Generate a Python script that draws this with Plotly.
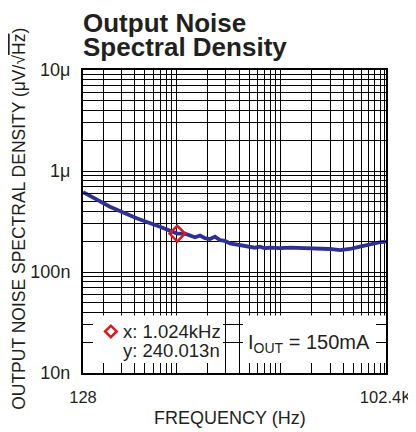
import math
import plotly.graph_objects as go

# ---- data ----
freq_hz = [128, 131, 232, 418, 699, 1024, 1214, 1356, 1514, 1691, 1888, 2107,
           2353, 2628, 2934, 3276, 3657, 4084, 4560, 5092, 5686, 6348, 7088,
           7914, 9868, 12300, 19120, 29730, 37070, 46210, 57610, 71820, 89550,
           102400]
noise_nv = [620, 610, 443, 340, 281, 240, 240, 232, 221, 229, 216, 212,
            224, 207, 203, 192, 188, 182, 182, 178, 174, 178, 172,
            174, 172, 174, 172, 169, 165, 169, 178, 188, 197,
            200]
cursor_x = 1024
cursor_y = 240.013e-9

x_tick_vals = [128, 102400]
x_tick_text = ["128", "102.4K"]
y_tick_vals = [1e-8, 1e-7, 1e-6, 1e-5]
y_tick_text = ["10n", "100n", "1μ", "10μ"]
x_decades = [100, 1000, 10000]
y_decades = [1e-8, 1e-7, 1e-6]
grid_digits = [1, 2, 3, 4, 5, 6, 7, 8, 9]

noise_v = [v * 1e-9 for v in noise_nv]
x_minor = [d * k for d in x_decades for k in grid_digits if 128 < d * k < 102400] + [100000]
x_minor = sorted(set(x_minor))
y_minor = [d * k for d in y_decades for k in grid_digits if d * k > 1e-8]

x_lo, x_hi = math.log10(x_tick_vals[0]), math.log10(x_tick_vals[-1])
y_lo, y_hi = -8, -5


def xf(frac):
    return 10 ** (x_lo + frac * (x_hi - x_lo))


def yf(frac):
    return 10 ** (y_lo + frac * (y_hi - y_lo))


FONT = "Liberation Sans, Arial, sans-serif"
TXT = "#231f20"

fig = go.Figure()
fig.add_trace(go.Scatter(x=freq_hz, y=noise_v, mode="lines",
                         line=dict(color="#2e3192", width=3.8),
                         hoverinfo="skip", showlegend=False))
fig.add_trace(go.Scatter(x=[cursor_x], y=[cursor_y], mode="markers",
                         marker=dict(symbol="diamond-open", size=12,
                                     color="#e3151b", line=dict(width=2.5, color="#e3151b")),
                         showlegend=False))

axis_common = dict(type="log", showline=True, linecolor="black", linewidth=2,
                   mirror="ticks", ticks="inside", ticklen=10, tickwidth=1,
                   tickcolor="black", showgrid=False, zeroline=False)

fig.update_xaxes(**axis_common, range=[x_lo, x_hi],
                 tickmode="array", tickvals=x_tick_vals, ticktext=x_tick_text,
                 tickfont=dict(family=FONT, size=16.5, color=TXT),
                 ticklabelstandoff=8,
                 minor=dict(tickmode="array", tickvals=x_minor, ticks="inside",
                            ticklen=10, tickwidth=1, tickcolor="black",
                            showgrid=True, gridcolor="black", gridwidth=1))
fig.update_yaxes(**axis_common, range=[y_lo, y_hi],
                 tickmode="array", tickvals=y_tick_vals, ticktext=y_tick_text,
                 tickfont=dict(family=FONT, size=18, color=TXT),
                 ticklabelstandoff=7,
                 minor=dict(tickmode="array", tickvals=y_minor, ticks="inside",
                            ticklen=10, tickwidth=1, tickcolor="black",
                            showgrid=True, gridcolor="black", gridwidth=1))

# white boxes behind readout text (above grid, below trace/ticks)
fig.add_shape(type="rect", xref="x", yref="y", x0=xf(0), x1=xf(0.462),
              y0=yf(0), y1=yf(0.19), fillcolor="white", line=dict(width=0), layer="between")
fig.add_shape(type="rect", xref="x", yref="y", x0=xf(0.528), x1=xf(1),
              y0=yf(0), y1=yf(0.19), fillcolor="white", line=dict(width=0), layer="between")
# cursor legend diamond
cx, cy, h = 0.092, 0.137, 0.019
fig.add_shape(type="path", xref="paper", yref="paper",
              path=f"M {cx-h},{cy} L {cx},{cy+h} L {cx+h},{cy} L {cx},{cy-h} Z",
              line=dict(color="#e3151b", width=2.5), fillcolor="rgba(0,0,0,0)",
              layer="above")

ann_font = dict(family=FONT, size=18.5, color=TXT)
fig.add_annotation(text=f"x: {cursor_x/1000:.3f}kHz", xref="paper", yref="paper",
                   x=0.127, y=0.137, xanchor="left", yanchor="middle",
                   showarrow=False, font=ann_font)
fig.add_annotation(text=f"y: {cursor_y*1e9:.3f}n", xref="paper", yref="paper",
                   x=0.127, y=0.075, xanchor="left", yanchor="middle",
                   showarrow=False, font=ann_font)
fig.add_annotation(text="I<sub>OUT</sub> = 150mA", xref="paper", yref="paper",
                   x=0.537, y=0.098, xanchor="left", yanchor="middle",
                   showarrow=False, font=dict(family=FONT, size=20, color=TXT))

# titles
title_font = dict(family=FONT, size=26, color=TXT)
fig.add_annotation(text="<b>Output Noise</b>", xref="paper", yref="paper",
                   x=-0.005, y=1.1535, xanchor="left", yanchor="middle",
                   showarrow=False, font=title_font)
fig.add_annotation(text="<b>Spectral Density</b>", xref="paper", yref="paper",
                   x=-0.005, y=1.0775, xanchor="left", yanchor="middle",
                   showarrow=False, font=title_font)
fig.add_annotation(text="FREQUENCY (Hz)", xref="paper", yref="paper",
                   x=0.484, y=-0.15, xanchor="center", yanchor="middle",
                   showarrow=False, font=dict(family=FONT, size=18, color=TXT))
fig.add_annotation(text="OUTPUT NOISE SPECTRAL DENSITY (μV/√<span style='text-decoration:overline'>Hz</span>)",
                   xref="paper", yref="paper", x=-0.21, y=0.51,
                   xanchor="center", yanchor="middle", textangle=-90,
                   showarrow=False, font=dict(family=FONT, size=17.5, color=TXT))

# the page adds an 8px body margin, so the plot area is offset accordingly
fig.update_layout(width=416, height=432, margin=dict(l=75, r=38, t=62, b=67),
                  paper_bgcolor="white", plot_bgcolor="white", showlegend=False)

fig.write_html("out.html")
